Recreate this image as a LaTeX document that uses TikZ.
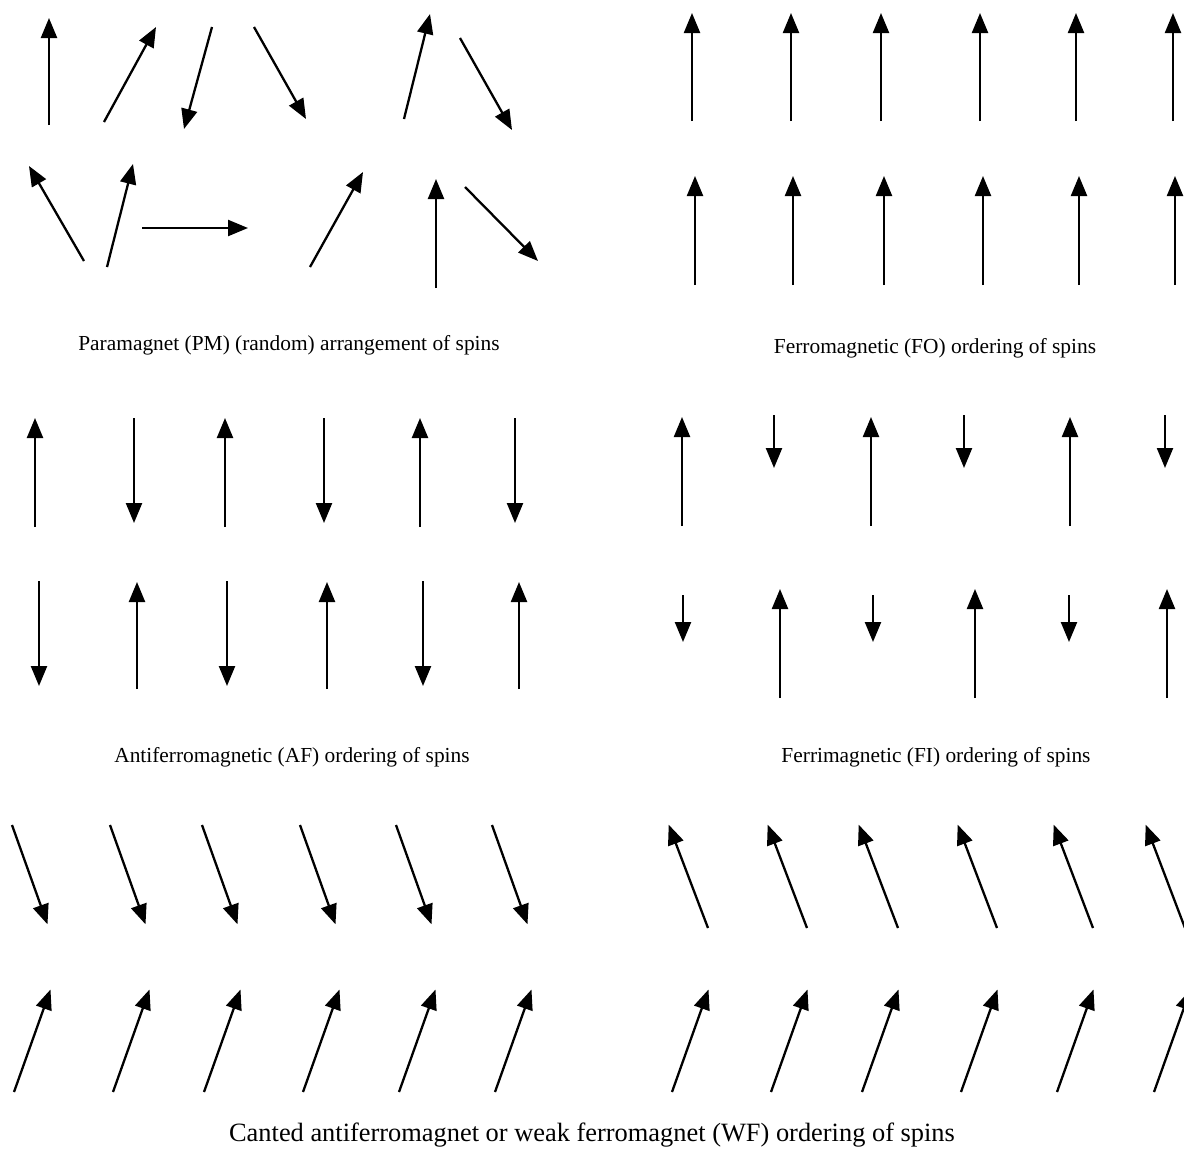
\documentclass[tikz,border=0pt]{standalone}
\usepackage{fontspec}
\setmainfont{Liberation Serif}
\usetikzlibrary{arrows.meta}

\begin{document}
\begin{tikzpicture}[x=0.5pt,y=-0.5pt,
    spin/.style={-{Triangle[length=10pt,width=8pt]}, line width=1.15pt},
    caption/.style={font=\fontsize{10.7}{12}\selectfont, inner sep=0pt}]
  % Page frame
  \useasboundingbox (0,0) rectangle (1184,1157);
  \clip (0,0) rectangle (1184,1157);
  % Paramagnet: random spins
  \foreach \xa/\ya/\xb/\yb in {49/125/49/18, 104/122/156/27, 212/27/184/129,
      254/27/306/119, 404/119/430/14, 460/38/512/130, 84/261/29/166,
      107/267/133/164, 142/228/248/228, 310/267/363/172, 436/288/436/179,
      465/187/538/261}
    \draw[spin] (\xa,\ya) -- (\xb,\yb);
  \node[caption] (pm) at (289,345) {Paramagnet (PM) (random) arrangement of spins};
  % Ferromagnetic: all up
  \foreach \xa/\xb in {692/695, 791/793, 881/884, 980/983, 1076/1079, 1173/1175} {
    \draw[spin] (\xa,121) -- (\xa,13);
    \draw[spin] (\xb,285) -- (\xb,176);
  }
  \node[caption] (fo) at (935,348) {Ferromagnetic (FO) ordering of spins};
  % Antiferromagnetic: up and down, equal length
  \foreach \xa/\xb in {35/39, 225/227, 420/423} {
    \draw[spin] (\xa,527) -- (\xa,418);
    \draw[spin] (\xb,581) -- (\xb,686);
  }
  \foreach \xa/\xb in {134/137, 324/327, 515/519} {
    \draw[spin] (\xa,418) -- (\xa,523);
    \draw[spin] (\xb,689) -- (\xb,582);
  }
  \node[caption] (af) at (292,757) {Antiferromagnetic (AF) ordering of spins};
  % Ferrimagnetic: long up, short down
  \foreach \xa/\xb/\xc/\xd in {682/774/683/780, 871/964/873/975, 1070/1165/1069/1167} {
    \draw[spin] (\xa,526) -- (\xa,417);
    \draw[spin] (\xb,415) -- (\xb,468);
    \draw[spin] (\xc,595) -- (\xc,642);
    \draw[spin] (\xd,698) -- (\xd,589);
  }
  \node[caption] (fi) at (936,757) {Ferrimagnetic (FI) ordering of spins};
  % Canted antiferromagnet / weak ferromagnet
  \foreach \xa/\xb in {12/14, 110/113, 202/204, 300/303, 396/399, 492/495} {
    \draw[spin] (\xa,825) -- ++(35.5,99.3);
    \draw[spin] (\xb,1092) -- ++(36.5,-102.5);
  }
  \foreach \xa/\xb in {708/672, 807/771, 898/862, 997/961, 1093/1057, 1185/1154} {
    \draw[spin] (\xa,928) -- ++(-39.3,-103.3);
    \draw[spin] (\xb,1092) -- ++(36.5,-102.5);
  }
  \node[caption, font=\fontsize{13.2}{15}\selectfont] (wf) at (592,1135)
    {Canted antiferromagnet or weak ferromagnet (WF) ordering of spins};
\end{tikzpicture}
\end{document}
